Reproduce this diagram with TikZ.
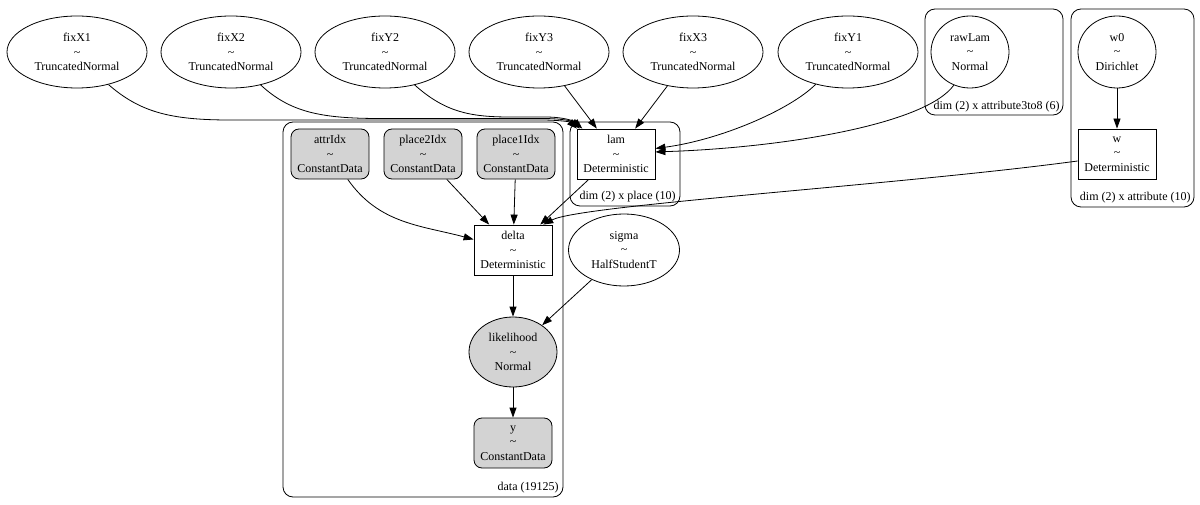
\documentclass[tikz,border=0pt]{standalone}
\usepackage{fontspec}
\setmainfont{Liberation Serif}
\usepackage{tikz}
\usetikzlibrary{arrows.meta,shapes.geometric}
\definecolor{obsgray}{HTML}{D3D3D3}

\begin{document}
\begin{tikzpicture}[x=1pt,y=-1pt,>={Triangle[length=10pt,width=7pt]},line width=0.8pt,
  font=\fontsize{12}{14.4}\selectfont,
  rv/.style={ellipse,draw,inner sep=0pt,align=center,minimum width=140pt,minimum height=72pt},
  rvround/.style={rv,minimum width=78pt,minimum height=72pt},
  detbox/.style={rectangle,draw,inner sep=0pt,align=center,minimum width=78pt,minimum height=50pt},
  obsbox/.style={detbox,rounded corners=8pt,fill=obsgray},
  plate/.style={draw,rounded corners=10pt},
  platelbl/.style={anchor=east,inner sep=0pt}]

\useasboundingbox (0,0) rectangle (1200,505);

% --- plates ---
\draw[plate] (283,122) rectangle (563,497);
\node[platelbl] (dataLbl) at (559,488) {data (19125)};
\draw[plate] (570,122) rectangle (680,206);
\node[platelbl] (lamLbl) at (676,197) {dim (2) x place (10)};
\draw[plate] (925,9) rectangle (1063,115);
\node[platelbl] (rawLamLbl) at (1060,107) {dim (2) x attribute3to8 (6)};
\draw[plate] (1071,9) rectangle (1194,207);
\node[platelbl] (wLbl) at (1191,198) {dim (2) x attribute (10)};

% --- priors ---
\node[rv] (fixX1) at (77,52) {fixX1\\\textasciitilde\\TruncatedNormal};
\node[rv] (fixX2) at (231,52) {fixX2\\\textasciitilde\\TruncatedNormal};
\node[rv] (fixY2) at (385,52) {fixY2\\\textasciitilde\\TruncatedNormal};
\node[rv] (fixY3) at (539,52) {fixY3\\\textasciitilde\\TruncatedNormal};
\node[rv] (fixX3) at (693,52) {fixX3\\\textasciitilde\\TruncatedNormal};
\node[rv] (fixY1) at (848,52) {fixY1\\\textasciitilde\\TruncatedNormal};
\node[rvround] (rawLam) at (970,52) {rawLam\\\textasciitilde\\Normal};
\node[rvround] (w0) at (1117,52) {w0\\\textasciitilde\\Dirichlet};

% --- deterministics and data ---
\node[detbox] (lam) at (616,154) {lam\\\textasciitilde\\Deterministic};
\node[detbox] (w) at (1117,154) {w\\\textasciitilde\\Deterministic};
\node[obsbox] (attrIdx) at (330,154) {attrIdx\\\textasciitilde\\ConstantData};
\node[obsbox] (place2Idx) at (423,154) {place2Idx\\\textasciitilde\\ConstantData};
\node[obsbox] (place1Idx) at (516,154) {place1Idx\\\textasciitilde\\ConstantData};
\node[detbox] (delta) at (513,250) {delta\\\textasciitilde\\Deterministic};
\node[rv,minimum width=111pt] (sigma) at (624,250) {sigma\\\textasciitilde\\HalfStudentT};
\node[rv,fill=obsgray,minimum width=88pt,minimum height=70pt] (likelihood) at (513,352) {likelihood\\\textasciitilde\\Normal};
\node[obsbox] (y) at (513,443) {y\\\textasciitilde\\ConstantData};

% --- edges into lam ---
\draw[->] (fixX1.-46) .. controls (140,112) and (170,120) .. (230,120) -- (540,120)
  .. controls (560,120) and (570,122) .. (lam.147);
\draw[->] (fixX2.-48) .. controls (290,112) and (320,118.5) .. (380,118.5) -- (542,118.5)
  .. controls (562,118.5) and (572,121) .. (lam.145);
\draw[->] (fixY2.-48) .. controls (445,112) and (470,117) .. (510,117) -- (545,117)
  .. controls (564,117) and (574,121) .. (lam.143);
\draw[->] (fixY3) -- (lam);
\draw[->] (fixX3) -- (lam);
\draw[->] (fixY1.-135) .. controls (790,110) and (720,140) .. (lam.8);
\draw[->] (rawLam.-116) .. controls (925,125) and (780,148) .. (lam.3);

% --- edges into delta ---
\draw[->] (w0) -- (w);
\draw[->] (w.west |- 0,161) .. controls (900,185) and (580,205) .. (delta.40);
\draw[->] (lam) -- (delta);
\draw[->] (attrIdx) to[out=-55,in=165] (delta);
\draw[->] (place2Idx) -- (delta);
\draw[->] (place1Idx) -- (delta);

% --- likelihood ---
\draw[->] (delta) -- (likelihood);
\draw[->] (sigma) -- (likelihood);
\draw[->] (likelihood) -- (y);

\end{tikzpicture}
\end{document}
